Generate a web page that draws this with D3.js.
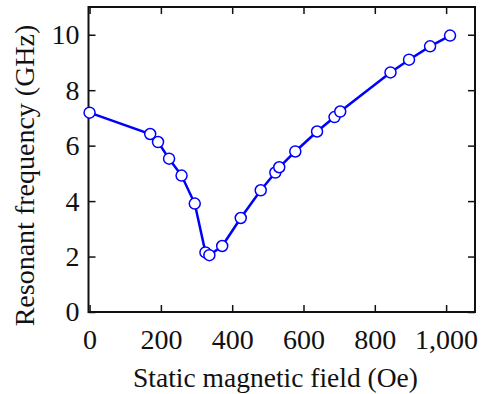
<!DOCTYPE html>
<html><head><meta charset="utf-8">
<script src="https://cdn.jsdelivr.net/npm/d3@7"></script>
</head><body style="margin:0">
<svg id="c" width="484" height="394" style="display:block;background:#fff"></svg>
<script>
const fieldOe = [0,170,192,223,258,295,325,336,372,424,480,521,532,577,638,687,703,844,896,955,1011];
const freqGHz = [7.19,6.42,6.13,5.53,4.92,3.91,2.15,2.05,2.38,3.39,4.39,5.03,5.22,5.79,6.51,7.03,7.23,8.64,9.10,9.58,9.97];
const xTicks = [0,200,400,600,800,1000];
const yTicks = [0,2,4,6,8,10];
const xTitle = "Static magnetic field (Oe)";
const yTitle = "Resonant frequency (GHz)";

const FONT = "'Liberation Serif'";
const FS = 28;
const svg = d3.select("#c");
const L=88.5, R=475, T=7, B=312;
const x = d3.scaleLinear().domain([-3,1081]).range([L,R]);
const y = d3.scaleLinear().domain([0,11]).range([B,T]);
const fmt = d3.format(",");
const tl = 7;

function styleAxis(g){
  g.attr("font-family",null).attr("font-size",null);
  g.select(".domain").remove();
  g.selectAll("line").attr("stroke","#111").attr("stroke-width",1.5);
  g.selectAll("text").style("font-family",FONT).attr("font-size",FS).attr("fill","#111");
}
svg.append("g").attr("transform",`translate(0,${B})`)
  .call(d3.axisBottom(x).tickValues(xTicks).tickFormat(fmt).tickSizeInner(-tl).tickSizeOuter(0).tickPadding(17))
  .call(styleAxis);
svg.append("g").attr("transform",`translate(0,${T})`)
  .call(d3.axisTop(x).tickValues(xTicks).tickFormat("").tickSizeInner(-tl).tickSizeOuter(0))
  .call(styleAxis);
svg.append("g").attr("transform",`translate(${L},0)`)
  .call(d3.axisLeft(y).tickValues(yTicks).tickSizeInner(-tl).tickSizeOuter(0).tickPadding(9))
  .call(styleAxis);
svg.append("g").attr("transform",`translate(${R},0)`)
  .call(d3.axisRight(y).tickValues(yTicks).tickFormat("").tickSizeInner(-tl).tickSizeOuter(0))
  .call(styleAxis);

svg.append("rect").attr("x",L).attr("y",T).attr("width",R-L).attr("height",B-T)
  .attr("fill","none").attr("stroke","#111").attr("stroke-width",2);

const data = fieldOe.map((v,i)=>({x:v,y:freqGHz[i]}));
svg.append("path").datum(data)
  .attr("d",d3.line().x(d=>x(d.x)).y(d=>y(d.y)))
  .attr("fill","none").attr("stroke","#0000ff").attr("stroke-width",2.5);
svg.append("g").selectAll("circle").data(data).join("circle")
  .attr("cx",d=>x(d.x)).attr("cy",d=>y(d.y)).attr("r",5.5)
  .attr("fill","#fff").attr("stroke","#0000ff").attr("stroke-width",1.5);

svg.append("text").attr("x",275.5).attr("y",386.5).attr("text-anchor","middle")
  .style("font-family",FONT).attr("font-size",27.5).attr("fill","#111").text(xTitle);
svg.append("text").attr("transform",`translate(34,175.5) rotate(-90)`).attr("text-anchor","middle")
  .style("font-family",FONT).attr("font-size",FS).attr("fill","#111").text(yTitle);
</script>
</body></html>
